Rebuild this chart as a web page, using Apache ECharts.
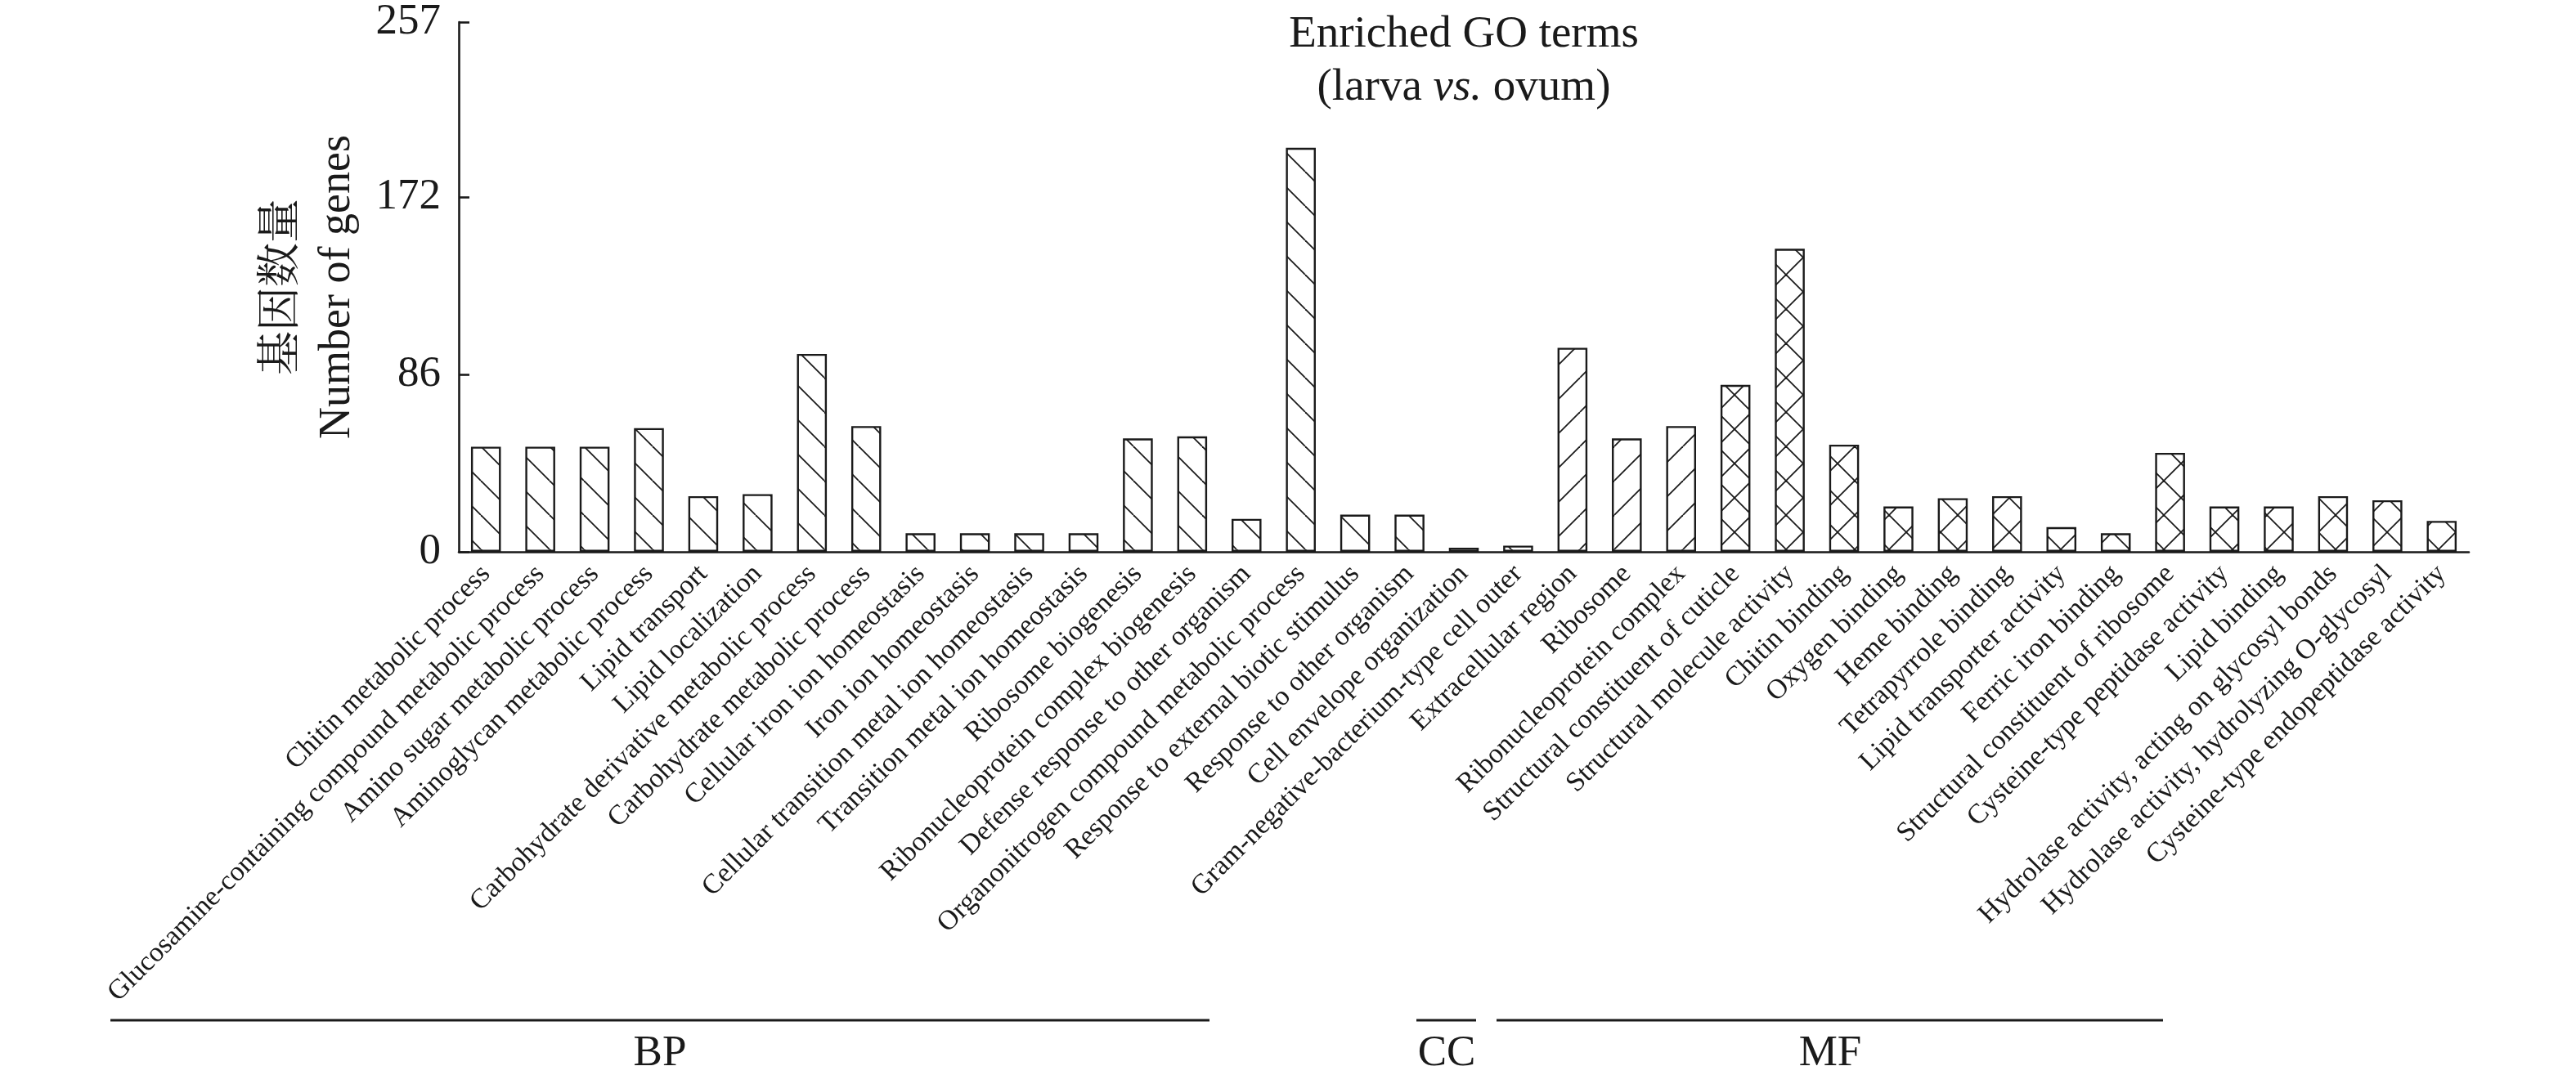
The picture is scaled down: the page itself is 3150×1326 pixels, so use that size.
<!DOCTYPE html>
<html>
<head>
<meta charset="utf-8">
<script src="https://cdn.jsdelivr.net/npm/echarts@6/dist/echarts.min.js"></script>
<style>
html,body{margin:0;padding:0;background:#fff;}
#chart{width:3150px;height:1326px;}
</style>
</head>
<body>
<div id="chart"></div>
<script>
// ---- data ----
const bpTerms = [
  'Chitin metabolic process',
  'Glucosamine-containing compound metabolic process',
  'Amino sugar metabolic process',
  'Aminoglycan metabolic process',
  'Lipid transport',
  'Lipid localization',
  'Carbohydrate derivative metabolic process',
  'Carbohydrate metabolic process',
  'Cellular iron ion homeostasis',
  'Iron ion homeostasis',
  'Cellular transition metal ion homeostasis',
  'Transition metal ion homeostasis',
  'Ribosome biogenesis',
  'Ribonucleoprotein complex biogenesis',
  'Defense response to other organism',
  'Organonitrogen compound metabolic process',
  'Response to external biotic stimulus',
  'Response to other organism',
  'Cell envelope organization',
  'Gram-negative-bacterium-type cell outer'
];
const bpValues = [51, 51, 51, 60, 27, 28, 96, 61, 9, 9, 9, 9, 55, 56, 16, 196, 18, 18, 2, 3];

const ccTerms = ['Extracellular region', 'Ribosome', 'Ribonucleoprotein complex'];
const ccValues = [99, 55, 61];

const mfTerms = [
  'Structural constituent of cuticle',
  'Structural molecule activity',
  'Chitin binding',
  'Oxygen binding',
  'Heme binding',
  'Tetrapyrrole binding',
  'Lipid transporter activity',
  'Ferric iron binding',
  'Structural constituent of ribosome',
  'Cysteine-type peptidase activity',
  'Lipid binding',
  'Hydrolase activity, acting on glycosyl bonds',
  'Hydrolase activity, hydrolyzing O-glycosyl',
  'Cysteine-type endopeptidase activity'
];
const mfValues = [81, 147, 52, 22, 26, 27, 12, 9, 48, 22, 22, 27, 25, 15];

const yTicks = [0, 86, 172, 257];
const titleLines = ['Enriched GO terms', '(larva ', 'vs.', ' ovum)'];
const groupNames = ['BP', 'CC', 'MF'];

// ---- hatch patterns ----
function makeHatch(kind) {
  const s = 42;
  const c = document.createElement('canvas');
  c.width = s; c.height = s;
  const ctx = c.getContext('2d');
  ctx.fillStyle = '#fff';
  ctx.fillRect(0, 0, s, s);
  ctx.strokeStyle = '#1a1a1a';
  ctx.lineWidth = 1.8;
  for (let k = -1; k <= 1; k++) {
    if (kind === 'back' || kind === 'cross') {
      ctx.beginPath();
      ctx.moveTo(k * s, 0); ctx.lineTo(k * s + s, s); ctx.stroke();
    }
    if (kind === 'fwd' || kind === 'cross') {
      ctx.beginPath();
      ctx.moveTo(k * s + s, 0); ctx.lineTo(k * s, s); ctx.stroke();
    }
  }
  return { image: c, repeat: 'repeat' };
}
const patBack = makeHatch('back');
const patFwd = makeHatch('fwd');
const patCross = makeHatch('cross');

const categories = bpTerms.concat(ccTerms, mfTerms);
const seriesData = []
  .concat(bpValues.map(v => ({ value: v, itemStyle: { color: patBack } })))
  .concat(ccValues.map(v => ({ value: v, itemStyle: { color: patFwd } })))
  .concat(mfValues.map(v => ({ value: v, itemStyle: { color: patCross } })));

const serif = "'Liberation Serif', 'Noto Serif CJK SC', 'Noto Sans CJK SC', serif";

const chart = echarts.init(document.getElementById('chart'));
chart.setOption({
  animation: false,
  backgroundColor: '#fff',
  grid: { left: 561, right: 131, top: 27, bottom: 651, containLabel: false },
  xAxis: {
    type: 'category',
    data: categories,
    axisLine: { show: true, lineStyle: { color: '#1a1a1a', width: 2.6 } },
    axisTick: { show: false },
    axisLabel: {
      interval: 0, rotate: 45, margin: 22,
      fontFamily: serif, fontSize: 34, color: '#1a1a1a'
    }
  },
  yAxis: {
    type: 'value',
    min: 0, max: 257,
    name: '基因数量\nNumber of genes',
    nameLocation: 'middle',
    nameRotate: 90,
    nameGap: 115,
    nameTextStyle: { fontFamily: serif, fontSize: 54, color: '#1a1a1a', lineHeight: 67 },
    axisLine: { show: true, lineStyle: { color: '#1a1a1a', width: 2.6 } },
    axisTick: { show: true, inside: true, length: 13, lineStyle: { color: '#1a1a1a', width: 2.6 }, customValues: yTicks },
    axisLabel: { fontFamily: serif, fontSize: 53, color: '#1a1a1a', margin: 22, customValues: yTicks },
    splitLine: { show: false }
  },
  series: [{
    type: 'bar',
    data: seriesData,
    barWidth: '55%',
    itemStyle: { borderColor: '#1a1a1a', borderWidth: 2.4 }
  }],
  graphic: [
    { type: 'text', x: 1790, y: 43, style: { text: titleLines[0], font: "55px " + serif, fill: '#1a1a1a', align: 'center', verticalAlign: 'middle' } },
    { type: 'text', x: 1790, y: 108, style: {
        text: '{a|' + titleLines[1] + '}{i|' + titleLines[2] + '}{a|' + titleLines[3] + '}',
        align: 'center', verticalAlign: 'middle',
        rich: {
          a: { fontFamily: serif, fontSize: 55, fill: '#1a1a1a' },
          i: { fontFamily: serif, fontSize: 55, fontStyle: 'italic', fill: '#1a1a1a' }
        }
    } },
    { type: 'line', shape: { x1: 135, y1: 1248, x2: 1479, y2: 1248 }, style: { stroke: '#1a1a1a', lineWidth: 3 } },
    { type: 'line', shape: { x1: 1732, y1: 1248, x2: 1805, y2: 1248 }, style: { stroke: '#1a1a1a', lineWidth: 3 } },
    { type: 'line', shape: { x1: 1830, y1: 1248, x2: 2645, y2: 1248 }, style: { stroke: '#1a1a1a', lineWidth: 3 } },
    { type: 'text', x: 807, y: 1289, style: { text: groupNames[0], font: "53px " + serif, fill: '#1a1a1a', align: 'center', verticalAlign: 'middle' } },
    { type: 'text', x: 1769, y: 1289, style: { text: groupNames[1], font: "53px " + serif, fill: '#1a1a1a', align: 'center', verticalAlign: 'middle' } },
    { type: 'text', x: 2238, y: 1289, style: { text: groupNames[2], font: "53px " + serif, fill: '#1a1a1a', align: 'center', verticalAlign: 'middle' } }
  ]
});
</script>
</body>
</html>
